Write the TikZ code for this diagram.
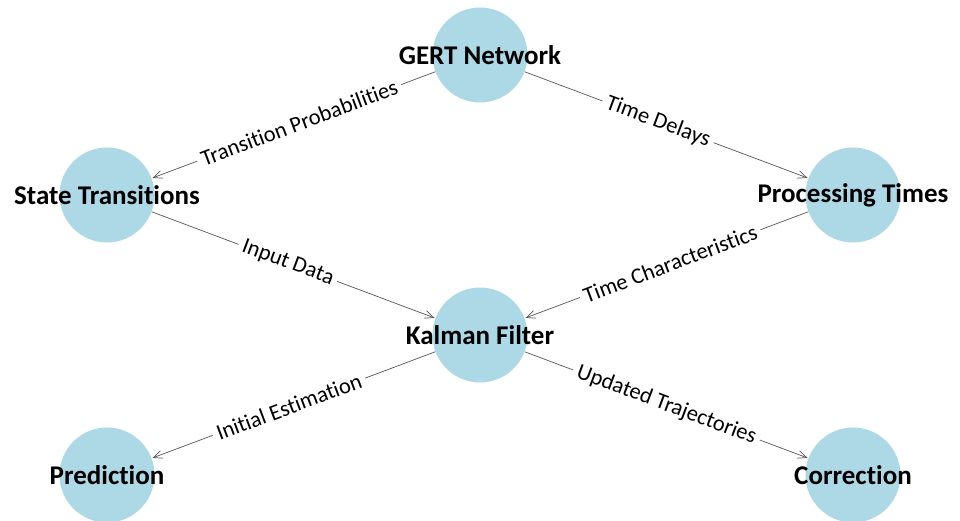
\documentclass[tikz,border=0pt]{standalone}
\usepackage{fontspec}
\setmainfont{Carlito}[Ligatures=NoCommon]
\usetikzlibrary{arrows.meta}
\definecolor{ballblue}{HTML}{ADD8E6}
\definecolor{edgegray}{HTML}{555555}
\begin{document}
\begin{tikzpicture}[x=1pt,y=-1pt,
  ball/.style={circle,fill=ballblue,draw=none,minimum size=95pt,inner sep=0pt},
  lbl/.style={font=\fontsize{27}{32}\selectfont\bfseries,text=black,inner sep=0pt},
  edge/.style={draw=edgegray,line width=0.7pt,-{Straight Barb[length=9pt,width=8pt,line width=0.7pt]},shorten >=1pt},
  elab/.style={font=\fontsize{22.5}{27}\selectfont,fill=white,inner sep=4.5pt,sloped,text=black}]
\useasboundingbox (0,0) rectangle (960,521);
\node[ball] (gert) at (480,55) {};
\node[ball] (st) at (107,195) {};
\node[ball] (pt) at (853,195) {};
\node[ball] (kf) at (480,335) {};
\node[ball] (pr) at (107,475) {};
\node[ball] (co) at (853,475) {};
\draw[edge] (gert) -- node[elab,pos=0.48] {Transition Probabilities} (st);
\draw[edge] (gert) -- node[elab,pos=0.47] {Time Delays} (pt);
\draw[edge] (st) -- node[elab,pos=0.48] {Input Data} (kf);
\draw[edge] (pt) -- node[elab,pos=0.487] {Time Characteristics} (kf);
\draw[edge] (kf) -- node[elab,pos=0.516] {Initial Estimation} (pr);
\draw[edge] (kf) -- node[elab] {Updated Trajectories} (co);
\node[lbl] (gertl) at (gert) {GERT Network};
\node[lbl] (stl) at (st) {State Transitions};
\node[lbl] (ptl) at (pt) {Processing Times};
\node[lbl] (kfl) at (kf) {Kalman Filter};
\node[lbl] (prl) at (pr) {Prediction};
\node[lbl] (col) at (co) {Correction};
\end{tikzpicture}
\end{document}
